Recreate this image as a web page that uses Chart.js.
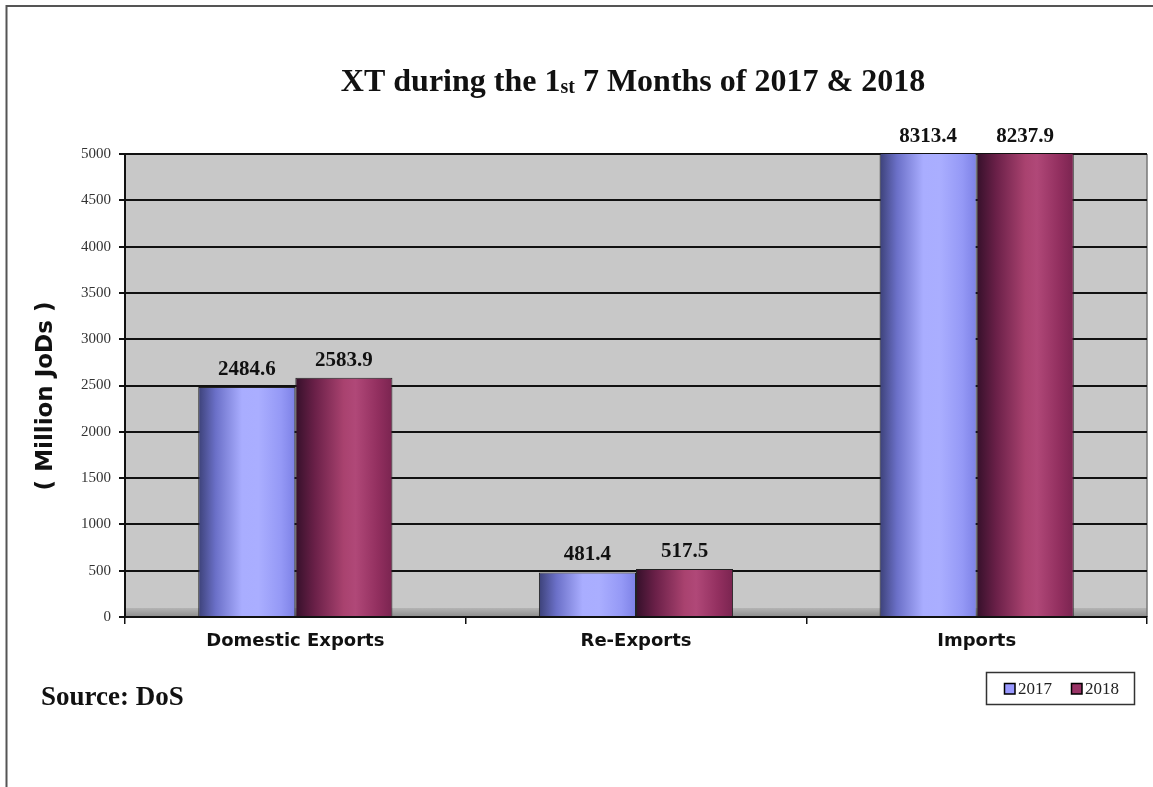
<!DOCTYPE html>
<html><head><meta charset="utf-8">
<script src="https://cdn.jsdelivr.net/npm/chart.js@4"></script>
<style>html,body{margin:0;padding:0;background:#fff;overflow:hidden}</style>
</head><body>
<canvas id="c" width="1153" height="787"></canvas>
<script>
const categories = ['Domestic Exports', 'Re-Exports', 'Imports'];
const seriesNames = ['2017', '2018'];
const values2017 = [2484.6, 481.4, 8313.4];
const values2018 = [2583.9, 517.5, 8237.9];
const yTickValues = [0, 500, 1000, 1500, 2000, 2500, 3000, 3500, 4000, 4500, 5000];
const yMax = 5000;

const CAT_PCT = 0.57;
const swatch = ['#9999ff', '#993366'];
const grad2017 = [[0, '#3c4178'], [0.18, '#6b70c8'], [0.45, '#a9adff'], [0.62, '#aaaeff'], [0.85, '#9599f6'], [1, '#7d81e6']];
const grad2018 = [[0, '#35102a'], [0.2, '#6a2048'], [0.5, '#a9426f'], [0.62, '#b04878'], [0.85, '#922f5f'], [1, '#7a2450']];

function barGradient(stops) {
  return function (ctx) {
    const chart = ctx.chart;
    const xs = chart.scales.x;
    if (!xs || ctx.type !== 'data' || !isFinite(xs.width) || xs.width <= 0) return stops[3][1];
    const catW = xs.width / categories.length;
    const groupW = catW * CAT_PCT;
    const barW = groupW / 2;
    const center = xs.getPixelForValue(ctx.dataIndex);
    const left = center - groupW / 2 + ctx.datasetIndex * barW;
    const g = chart.ctx.createLinearGradient(left, 0, left + barW, 0);
    stops.forEach(s => g.addColorStop(s[0], s[1]));
    return g;
  };
}

const decor = {
  id: 'decor',
  beforeDraw(chart) {
    const { ctx, chartArea: a } = chart;
    ctx.save();
    ctx.fillStyle = '#c8c8c8';
    ctx.fillRect(a.left, a.top, a.right - a.left, a.bottom - a.top);
    const g = ctx.createLinearGradient(0, a.bottom - 9, 0, a.bottom);
    g.addColorStop(0, '#b4b4b4');
    g.addColorStop(1, '#8c8c8c');
    ctx.fillStyle = g;
    ctx.fillRect(a.left, a.bottom - 9, a.right - a.left, 9);
    ctx.strokeStyle = '#777';
    ctx.lineWidth = 1.5;
    ctx.beginPath();
    ctx.moveTo(a.right, a.top);
    ctx.lineTo(a.right, a.bottom);
    ctx.stroke();
    ctx.restore();
  },
  afterDatasetsDraw(chart) {
    const { ctx, chartArea: a } = chart;
    ctx.save();
    ctx.font = 'bold 21px "Liberation Serif"';
    ctx.fillStyle = '#111';
    ctx.textAlign = 'center';
    ctx.textBaseline = 'bottom';
    chart.data.datasets.forEach((ds, di) => {
      chart.getDatasetMeta(di).data.forEach((el, i) => {
        const top = Math.max(el.y, a.top);
        ctx.fillText(ds.data[i].toFixed(1), el.x, top - 7);
      });
    });
    ctx.restore();
  },
  afterDraw(chart) {
    const { ctx } = chart;
    ctx.save();
    // page frame
    ctx.strokeStyle = '#555';
    ctx.lineWidth = 2;
    ctx.beginPath();
    ctx.moveTo(6.5, 787);
    ctx.lineTo(6.5, 6);
    ctx.lineTo(1153, 6);
    ctx.stroke();

    // title
    const big = 'bold 32px "Liberation Serif"';
    const small = 'bold 20px "Liberation Serif"';
    const parts = [['XT during the 1', big, 0], ['st', small, 2], [' 7 Months of 2017 & 2018', big, 0]];
    let total = 0;
    parts.forEach(p => { ctx.font = p[1]; total += ctx.measureText(p[0]).width; });
    let x = 633 - total / 2;
    ctx.fillStyle = '#111';
    ctx.textBaseline = 'alphabetic';
    ctx.textAlign = 'left';
    parts.forEach(p => { ctx.font = p[1]; ctx.fillText(p[0], x, 91 + p[2]); x += ctx.measureText(p[0]).width; });

    // y-axis title
    ctx.save();
    ctx.translate(46, 396);
    ctx.rotate(-Math.PI / 2);
    ctx.font = 'bold 23px "DejaVu Sans"';
    ctx.textAlign = 'center';
    ctx.textBaseline = 'middle';
    ctx.fillText('( Million JoDs )', 0, 0);
    ctx.restore();

    // source
    ctx.font = 'bold 27px "Liberation Serif"';
    ctx.textAlign = 'left';
    ctx.textBaseline = 'alphabetic';
    ctx.fillText('Source: DoS', 41, 705);

    // legend
    ctx.fillStyle = '#fff';
    ctx.fillRect(986, 672, 149, 33);
    ctx.strokeStyle = '#333';
    ctx.lineWidth = 1.5;
    ctx.strokeRect(986.5, 672.5, 148, 32);
    const lx = [1004, 1071];
    ctx.font = '17px "Liberation Serif"';
    ctx.textBaseline = 'middle';
    chart.data.datasets.forEach((ds, i) => {
      ctx.fillStyle = swatch[i];
      ctx.fillRect(lx[i], 683, 11, 11);
      ctx.strokeStyle = '#000';
      ctx.lineWidth = 1.5;
      ctx.strokeRect(lx[i] + 0.5, 683.5, 10.5, 10.5);
      ctx.fillStyle = '#222';
      ctx.fillText(ds.label, lx[i] + 14, 689.5);
    });
    ctx.restore();
  }
};

new Chart(document.getElementById('c'), {
  type: 'bar',
  data: {
    labels: categories,
    datasets: [
      { label: seriesNames[0], data: values2017, backgroundColor: barGradient(grad2017), borderColor: '#222', borderWidth: 1 },
      { label: seriesNames[1], data: values2018, backgroundColor: barGradient(grad2018), borderColor: '#222', borderWidth: 1 }
    ]
  },
  options: {
    responsive: false,
    animation: false,
    layout: { padding: { left: 6, right: 6, top: 154, bottom: 110 } },
    datasets: { bar: { barPercentage: 1, categoryPercentage: CAT_PCT } },
    plugins: { legend: { display: false }, title: { display: false }, tooltip: { enabled: false } },
    scales: {
      x: {
        afterFit(s) { s.height = 60; },
        grid: { display: true, drawOnChartArea: false, drawTicks: true, offset: true, tickLength: 7, color: '#111', lineWidth: 1.5 },
        border: { display: true, color: '#111', width: 2 },
        ticks: { color: '#111', font: { family: '"DejaVu Sans"', weight: 'bold', size: 18 }, padding: 7 }
      },
      y: {
        min: 0, max: yMax,
        afterFit(s) { s.width = 119; },
        afterBuildTicks(s) { s.ticks = yTickValues.map(v => ({ value: v })); },
        grid: { color: '#111', lineWidth: 2, tickLength: 6, drawTicks: true },
        border: { display: true, color: '#111', width: 2 },
        ticks: { color: '#333', font: { family: '"Liberation Serif"', size: 15 }, padding: 8, callback: v => String(v) }
      }
    }
  },
  plugins: [decor]
});
</script>
</body></html>
